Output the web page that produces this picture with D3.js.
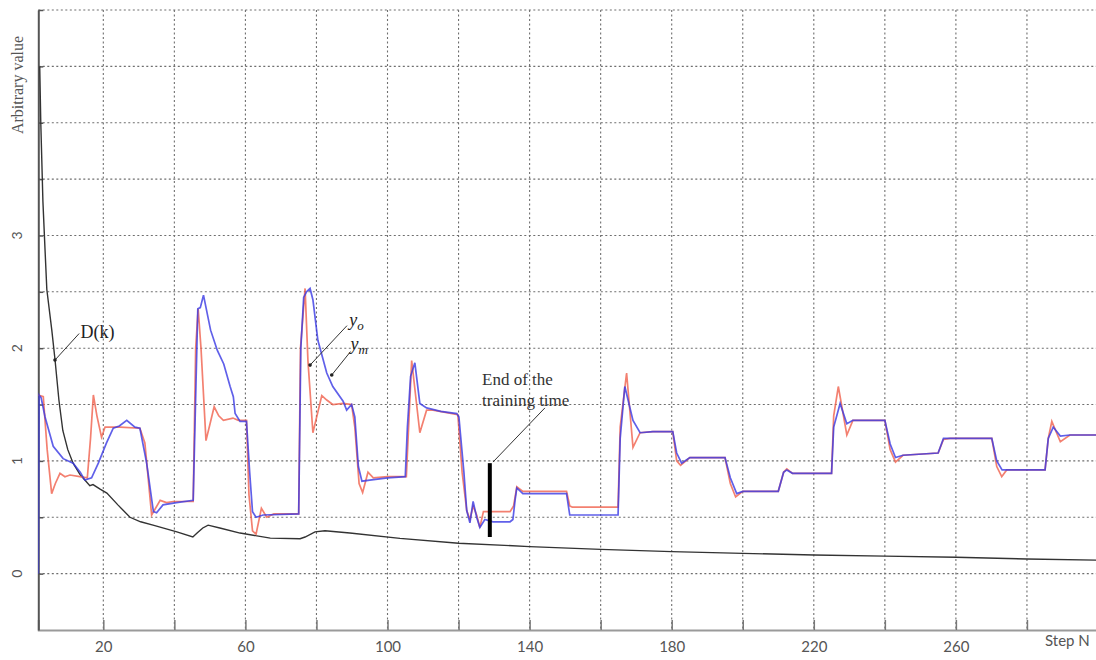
<!DOCTYPE html>
<html>
<head>
<meta charset="utf-8">
<script src="https://cdn.jsdelivr.net/npm/d3@7"></script>
<style>
    body { margin: 0; background: #fff; }
    svg { display: block; }
</style>
</head>
<body>
<script>

// Axis ticks and labels
var stepTicks = [20, 40, 60, 80, 100, 120, 140, 160, 180, 200, 220, 240, 260, 280];
var stepLabels = [20, 60, 100, 140, 180, 220, 260];
var valueTicks = [0, 0.5, 1, 1.5, 2, 2.5, 3, 3.5, 4, 4.5, 5];
var valueLabels = [0, 1, 2, 3];

// y_o (blue) : [step, value]
var yo = [[1.7,0],[1.9,1.585],[2.5,1.56],[3.6,1.39],[5.9,1.13],[8.7,1.02],[11.5,0.98],[13.5,0.9],[14.8,0.83],
    [16.7,0.85],[18.6,0.98],[20.9,1.16],[22.8,1.29],[24.5,1.31],[26.6,1.36],[28.9,1.30],[30.3,1.29],[32.2,0.98],
    [34.1,0.55],[35,0.54],[36.8,0.61],[40.6,0.63],[45.3,0.65],[46.6,2.35],[47.3,2.36],[48.2,2.47],[50.2,2.16],
    [52.1,1.98],[53.9,1.86],[55.7,1.66],[56.6,1.57],[57.1,1.42],[58.5,1.35],[60.3,1.35],[61.2,0.9],[62,0.55],
    [63,0.5],[65,0.52],[75,0.53],[75.6,2.0],[76.4,2.45],[77.2,2.50],[78.2,2.53],[79,2.43],[80.4,2.07],[82.9,1.78],
    [84.6,1.66],[87.5,1.53],[88.5,1.45],[89.9,1.50],[90.8,1.39],[91.8,0.95],[92.8,0.82],[95,0.83],[100,0.85],
    [105,0.86],[105.6,1.3],[106.5,1.75],[107.7,1.87],[109.1,1.51],[111,1.47],[115,1.44],[119.5,1.42],[120.1,1.39],
    [121.5,0.9],[122.3,0.56],[123.2,0.45],[124.1,0.64],[125.1,0.50],[126,0.41],[127.4,0.48],[129.7,0.46],
    [134.5,0.46],[135.3,0.48],[135.9,0.65],[136.4,0.76],[138.1,0.71],[150.4,0.71],[151.3,0.52],[164.9,0.52],
    [165.5,1.2],[166.8,1.66],[169.1,1.36],[171.1,1.25],[174.7,1.26],[180.3,1.26],[181.4,1.07],[182.8,0.98],
    [185.1,1.03],[195,1.03],[196.5,0.85],[198.3,0.71],[200,0.73],[210,0.73],[211.5,0.9],[212.4,0.92],[214,0.89],
    [225,0.89],[225.6,1.3],[227.4,1.51],[229.3,1.33],[231,1.36],[240,1.36],[241.5,1.15],[243,1.03],[245.1,1.05],
    [255,1.07],[256.5,1.2],[258.3,1.20],[270.1,1.20],[271.5,1.0],[273,0.92],[274.3,0.92],[285.1,0.92],[286,1.2],
    [287.4,1.30],[289.4,1.22],[292.1,1.23],[300,1.23]];

// y_m (red)
var ym = [[1.7,1.585],[3.1,1.57],[4.2,1.1],[5.46,0.71],[6.5,0.8],[7.8,0.89],[9.2,0.86],[10.6,0.875],[13.4,0.86],
    [15.5,0.85],[16.4,1.2],[17.2,1.585],[18.2,1.4],[19.5,1.21],[20.5,1.30],[24.7,1.30],[30.3,1.29],[31.7,1.16],
    [33.6,0.52],[36,0.65],[37.8,0.63],[39.7,0.64],[45.3,0.64],[46.0,2.0],[46.7,2.35],[47.5,2.0],[48.9,1.18],
    [50.2,1.35],[51.2,1.48],[52.5,1.40],[53.8,1.36],[56.5,1.38],[58,1.36],[60.3,1.36],[61,0.7],[62,0.38],[63,0.35],
    [64.5,0.58],[66,0.50],[68,0.53],[75,0.53],[75.5,2.0],[76.8,2.53],[77.6,1.89],[79,1.25],[81.5,1.58],[82.9,1.54],
    [84.6,1.50],[87.5,1.51],[89.9,1.50],[90.8,1.3],[92,0.8],[93,0.72],[94.5,0.9],[96,0.85],[100,0.86],[105.3,0.86],
    [106.8,1.89],[109.1,1.25],[111,1.45],[112.8,1.45],[119.8,1.41],[121,0.9],[122.3,0.56],[123.2,0.48],[124.1,0.6],
    [125.1,0.52],[126,0.41],[127,0.55],[134.5,0.55],[135.5,0.6],[136.4,0.77],[138.1,0.73],[150.4,0.73],[151.3,0.6],
    [152,0.59],[164.9,0.59],[165.5,1.3],[167.3,1.78],[169.1,1.12],[171.1,1.25],[174.7,1.26],[180.3,1.26],
    [181.4,1.0],[182.5,0.96],[185.1,1.03],[195,1.03],[196.5,0.8],[198,0.68],[200,0.73],[210,0.73],[211.5,0.9],
    [212.4,0.93],[214,0.89],[225,0.89],[225.6,1.4],[226.9,1.66],[229.3,1.23],[231,1.36],[240,1.36],[241.5,1.1],
    [243,0.99],[245.1,1.05],[255,1.07],[256.5,1.19],[258.3,1.20],[270.1,1.20],[271.5,0.95],[272.9,0.86],
    [274.3,0.92],[285.1,0.92],[286,1.2],[287,1.35],[289.4,1.17],[292.1,1.23],[300,1.23]];

// D(k) (black)
var dk = [[2.1,4.50],[2.4,4.0],[3.0,3.3],[3.6,2.87],[4.1,2.52],[5.5,2.16],[6.4,1.9],[7.5,1.54],[8.6,1.27],
    [10,1.10],[11.5,0.98],[13.4,0.88],[14.8,0.83],[16.2,0.78],[17.1,0.79],[19.1,0.75],[21,0.715],[24.1,0.61],
    [27.5,0.50],[30.5,0.46],[34,0.43],[40.7,0.37],[45.2,0.325],[46.4,0.36],[48,0.405],[49.5,0.43],[52.8,0.405],
    [58.5,0.36],[67,0.315],[75.4,0.31],[76.8,0.325],[79.6,0.37],[82.4,0.38],[89.4,0.36],[103.5,0.313],
    [120,0.27],[140,0.24],[160,0.215],[180,0.195],[200,0.18],[220,0.165],[240,0.155],[260,0.145],[280,0.13],
    [300,0.12]];

// Annotations: label, text anchor [step, value], leader from [step, value] to [step, value]
var notes = [
    { text: "D(k)", at: [13.6, 2.09], from: [6.4, 1.895], to: [13.2, 2.13], dot: true },
    { text: "y", sub: "o", at: [89.2, 2.2], from: [78.2, 1.85], to: [88.6, 2.2], dot: true },
    { text: "y", sub: "m", at: [89.6, 1.98], from: [84.3, 1.762], to: [89.6, 1.97], dot: true }
];
var trainingEnd = 128.8;
var trainingBar = [0.325, 0.98];
var trainingText = ["End of the", "training time"];

var width = 1096,
    height = 660;

var svg = d3.select("body")
    .append("svg")
    .attr("width", width)
    .attr("height", height);

var x = d3.scaleLinear().domain([1.7, 300]).range([38.3, 1098]);
var y = d3.scaleLinear().domain([-0.5, 5]).range([630, 10]);

// clip for the plot
svg.append("clipPath").attr("id", "plot")
    .append("rect")
    .attr("x", x(1.7)).attr("y", y(5) - 2)
    .attr("width", width - x(1.7)).attr("height", y(-0.5) - y(5) + 2);

// grid
var grid = svg.append("g").attr("class", "grid")
    .attr("stroke", "#6f6f6f")
    .attr("stroke-width", 1.1)
    .attr("stroke-dasharray", "2,2.5");

grid.selectAll(".hgrid")
    .data(valueTicks)
    .enter().append("line")
    .attr("x1", x(1.7)).attr("x2", width)
    .attr("y1", d => y(d)).attr("y2", d => y(d));

grid.selectAll(".vgrid")
    .data(stepTicks)
    .enter().append("line")
    .attr("x1", d => x(d)).attr("x2", d => x(d))
    .attr("y1", y(5)).attr("y2", y(-0.5));

// axes
var xAxis = d3.axisBottom(x)
    .tickValues(stepTicks)
    .tickSize(-10)
    .tickPadding(11)
    .tickFormat(d => stepLabels.indexOf(d) >= 0 ? d : "");

var gx = svg.append("g")
    .attr("transform", "translate(0," + y(-0.5) + ")")
    .call(xAxis);
gx.select(".domain").attr("stroke", "#9a9a9a").attr("stroke-width", 2);
gx.selectAll(".tick line").attr("stroke", "#777").attr("stroke-width", 1.5);
gx.selectAll(".tick text")
    .attr("fill", "#555")
    .style("font-family", "Lato, 'Open Sans', sans-serif")
    .style("font-size", "15px");

var yAxis = d3.axisLeft(y)
    .tickValues(valueTicks)
    .tickSize(-5)
    .tickSizeOuter(0)
    .tickFormat("");

var gy = svg.append("g")
    .attr("transform", "translate(" + x(1.7) + ",0)")
    .call(yAxis);
gy.select(".domain").attr("stroke", "#555").attr("stroke-width", 2);
gy.selectAll(".tick line").attr("stroke", "#555").attr("stroke-width", 1.5);

// rotated y labels
svg.selectAll(".ylab")
    .data(valueLabels)
    .enter().append("text")
    .attr("transform", d => "translate(22," + y(d) + ") rotate(-90)")
    .attr("text-anchor", "middle")
    .attr("fill", "#555")
    .style("font-family", "Lato, 'Open Sans', sans-serif")
    .style("font-size", "14px")
    .text(d => d);

svg.append("text")
    .attr("transform", "translate(23," + 85 + ") rotate(-90)")
    .attr("text-anchor", "middle")
    .attr("fill", "#555")
    .style("font-family", "'Liberation Serif', serif")
    .style("font-size", "16px")
    .text("Arbitrary value");

svg.append("text")
    .attr("x", 1045).attr("y", 646)
    .attr("fill", "#555")
    .style("font-family", "Lato, 'Open Sans', sans-serif")
    .style("font-size", "15px")
    .text("Step N");

// lines
var line = d3.line()
    .x(d => x(d[0]))
    .y(d => y(d[1]));

var plot = svg.append("g").attr("clip-path", "url(#plot)");

plot.append("path")
    .datum(dk)
    .attr("fill", "none")
    .attr("stroke", "#333")
    .attr("stroke-width", 1.4)
    .attr("d", line);

plot.append("path")
    .datum(ym)
    .attr("fill", "none")
    .attr("stroke", "#f0604c")
    .attr("stroke-opacity", 0.8)
    .attr("stroke-width", 1.7)
    .attr("d", line);

plot.append("path")
    .datum(yo)
    .attr("fill", "none")
    .attr("stroke", "#3838e4")
    .attr("stroke-opacity", 0.8)
    .attr("stroke-width", 1.7)
    .attr("d", line);

// annotations
var ann = svg.append("g");

notes.forEach(function(n) {
    ann.append("line")
        .attr("x1", x(n.from[0])).attr("y1", y(n.from[1]))
        .attr("x2", x(n.to[0])).attr("y2", y(n.to[1]))
        .attr("stroke", "#333").attr("stroke-width", 1);
    if (n.dot) {
        ann.append("circle")
            .attr("cx", x(n.from[0])).attr("cy", y(n.from[1]))
            .attr("r", 1.8).attr("fill", "#222");
    }
    var t = ann.append("text")
        .attr("x", x(n.at[0])).attr("y", y(n.at[1]))
        .attr("fill", "#222")
        .style("font-family", "'Liberation Serif', serif")
        .style("font-size", "18px");
    if (n.sub) {
        t.append("tspan").style("font-style", "italic").text(n.text);
        t.append("tspan").attr("dy", 4).style("font-style", "italic")
            .style("font-size", "13px").text(n.sub);
    } else {
        t.text(n.text);
    }
});

// end of training marker
ann.append("line")
    .attr("x1", x(trainingEnd)).attr("x2", x(trainingEnd))
    .attr("y1", y(trainingBar[0])).attr("y2", y(trainingBar[1]))
    .attr("stroke", "#000").attr("stroke-width", 4);

ann.append("line")
    .attr("x1", x(trainingEnd + 0.9)).attr("y1", y(trainingBar[1] + 0.01))
    .attr("x2", x(144.3)).attr("y2", y(1.47))
    .attr("stroke", "#333").attr("stroke-width", 1);

ann.selectAll(".train")
    .data(trainingText)
    .enter().append("text")
    .attr("x", x(126.6))
    .attr("y", (d, i) => y(1.67) + i * 21)
    .attr("fill", "#333")
    .style("font-family", "'Liberation Serif', serif")
    .style("font-size", "17px")
    .text(d => d);

</script>
</body>
</html>
